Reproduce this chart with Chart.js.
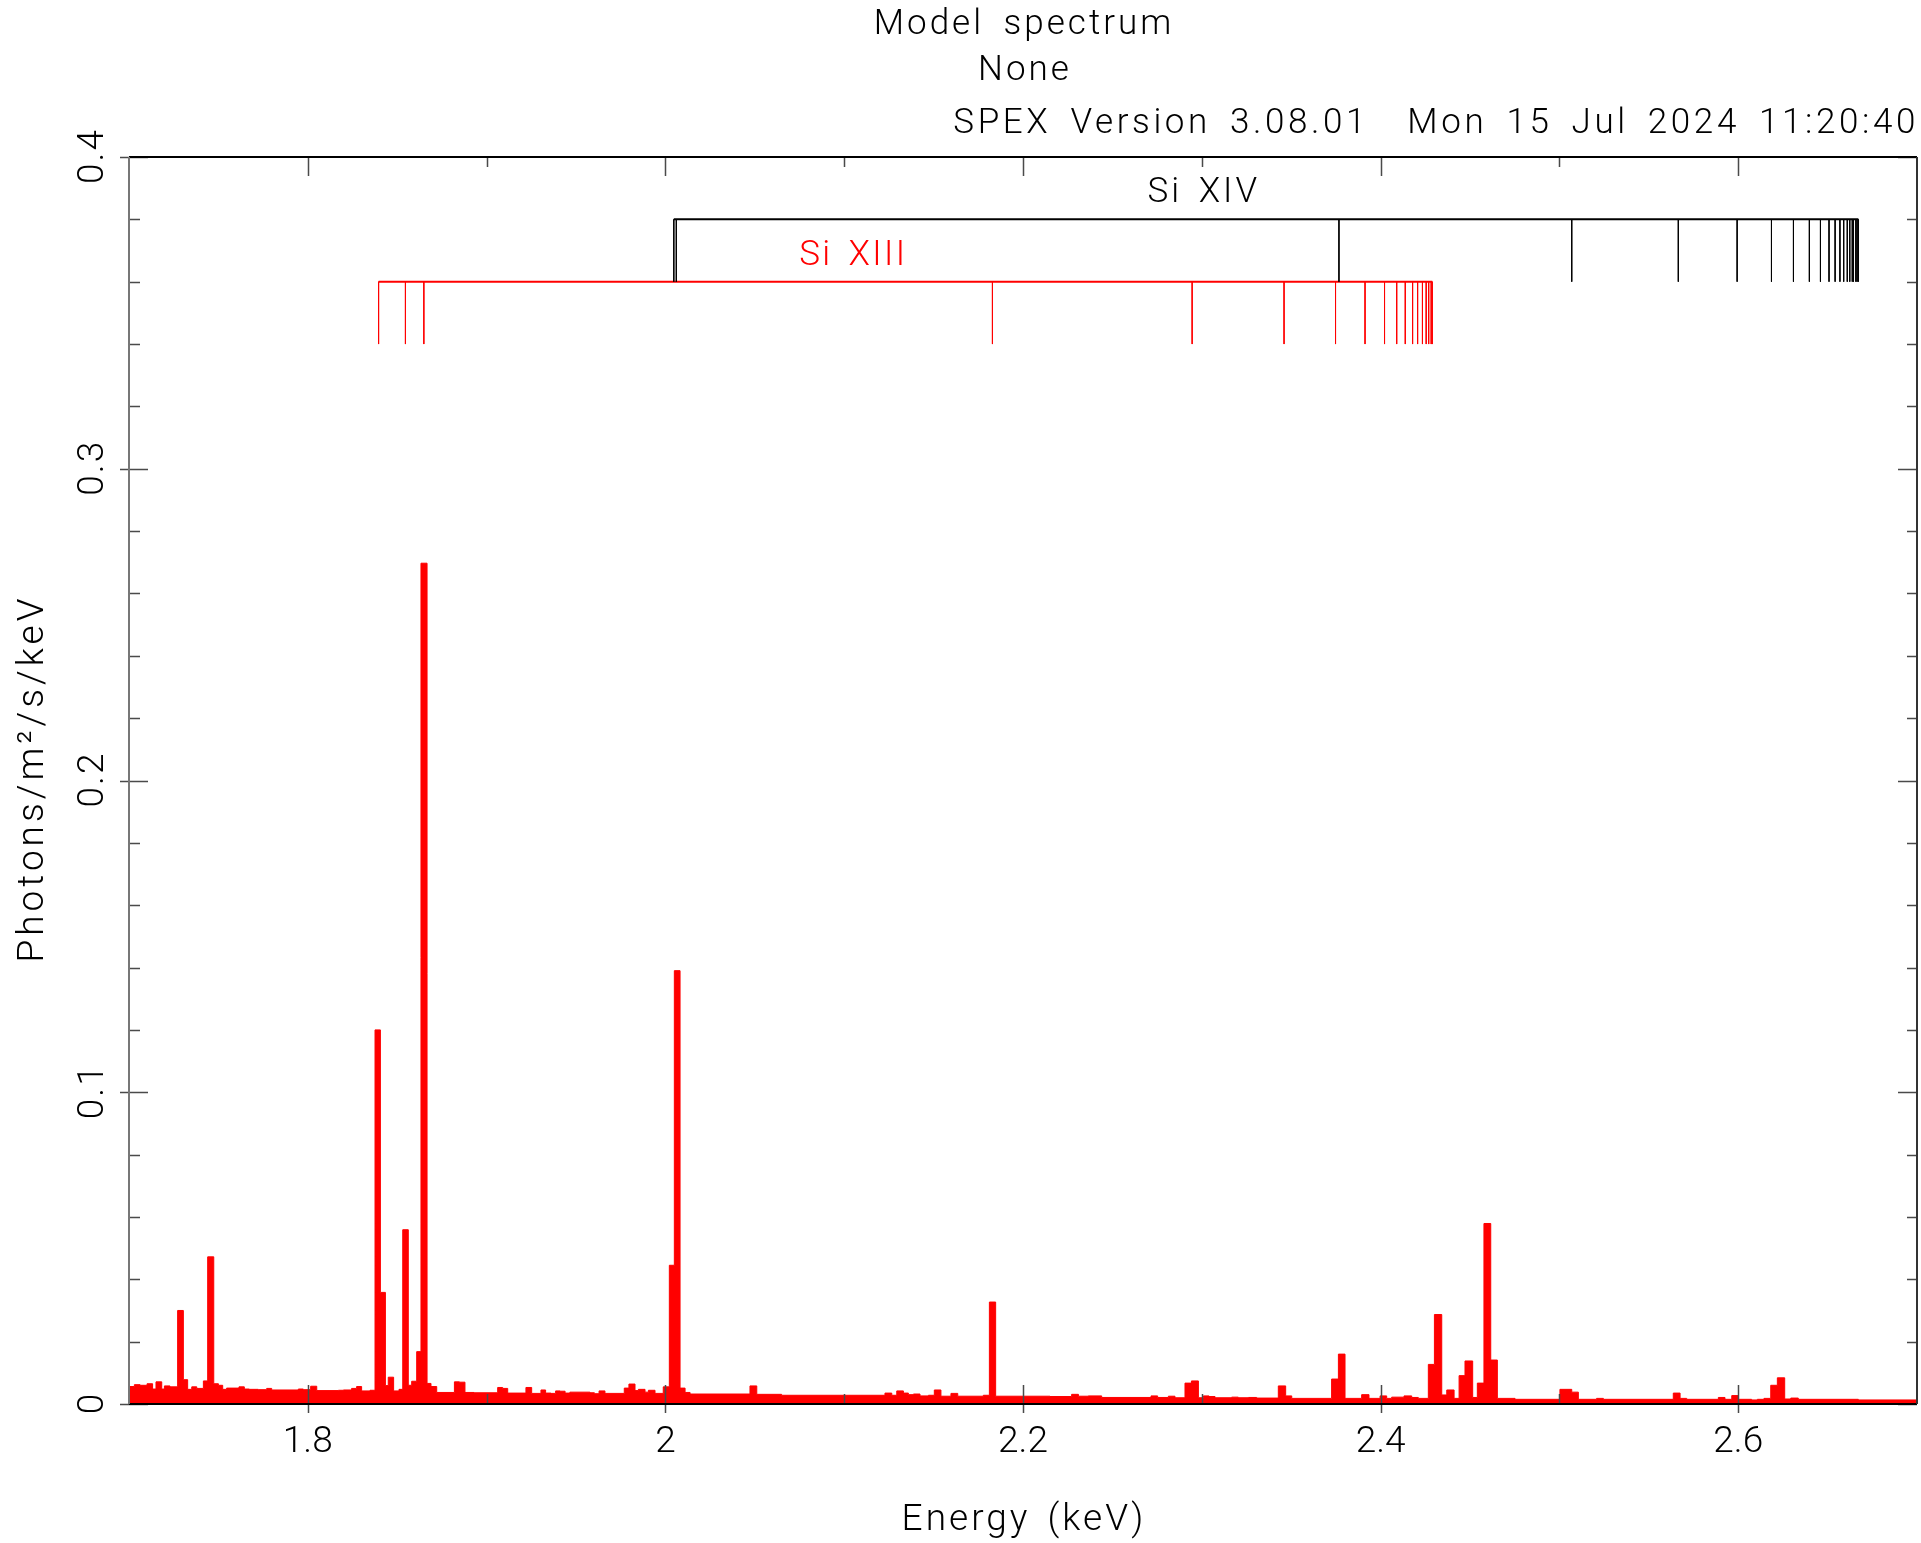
<!DOCTYPE html>
<html>
<head>
<meta charset="utf-8">
<title>Model spectrum</title>
<script src="https://cdn.jsdelivr.net/npm/chart.js@4.4.1/dist/chart.umd.min.js"></script>
<style>
  html, body { margin: 0; padding: 0; background: #fff; }
  #wrap { width: 1921px; height: 1543px; }
</style>
</head>
<body>
<div id="wrap"><canvas id="spectrum" width="1921" height="1543"></canvas></div>
<script>
// model spectrum, step edges (keV) and flux (photons/m^2/s/keV)
const edgeKeV = [
	1.7000, 1.7030, 1.7062, 1.7101, 1.7132, 1.7151, 1.7183, 1.7198, 1.7229, 1.7272,
	1.7304, 1.7328, 1.7351, 1.7379, 1.7416, 1.7440, 1.7474, 1.7500, 1.7524, 1.7546,
	1.7615, 1.7645, 1.7673, 1.7723, 1.7770, 1.7798, 1.7947, 1.7975, 1.8016, 1.8050,
	1.8171, 1.8199, 1.8245, 1.8273, 1.8301, 1.8348, 1.8376, 1.8406, 1.8434, 1.8450,
	1.8480, 1.8510, 1.8531, 1.8562, 1.8581, 1.8609, 1.8633, 1.8667, 1.8689, 1.8721,
	1.8820, 1.8848, 1.8879, 1.8931, 1.9062, 1.9090, 1.9118, 1.9220, 1.9252, 1.9304,
	1.9330, 1.9360, 1.9386, 1.9411, 1.9439, 1.9466, 1.9578, 1.9603, 1.9629, 1.9662,
	1.9770, 1.9796, 1.9830, 1.9849, 1.9886, 1.9905, 1.9942, 1.9988, 2.0022, 2.0050,
	2.0082, 2.0110, 2.0138, 2.0473, 2.0511, 2.0650, 2.1228, 2.1266, 2.1294, 2.1331,
	2.1359, 2.1387, 2.1424, 2.1471, 2.1504, 2.1541, 2.1597, 2.1635, 2.1778, 2.1812,
	2.1847, 2.2151, 2.2272, 2.2310, 2.2365, 2.2440, 2.2716, 2.2753, 2.2813, 2.2850,
	2.2906, 2.2942, 2.2981, 2.3009, 2.3040, 2.3074, 2.3167, 2.3204, 2.3260, 2.3307,
	2.3428, 2.3469, 2.3503, 2.3726, 2.3764, 2.3801, 2.3894, 2.3935, 2.3997, 2.4034,
	2.4062, 2.4131, 2.4174, 2.4211, 2.4267, 2.4301, 2.4342, 2.4370, 2.4411, 2.4439,
	2.4472, 2.4515, 2.4541, 2.4578, 2.4616, 2.4653, 2.4752, 2.5003, 2.5069, 2.5106,
	2.5208, 2.5246, 2.5637, 2.5675, 2.5712, 2.5889, 2.5926, 2.5964, 2.6001, 2.6075,
	2.6107, 2.6144, 2.6182, 2.6219, 2.6260, 2.6294, 2.6336, 2.6672, 2.7000
];
const fluxValues = [
	0.0056, 0.0062, 0.0060, 0.0065, 0.0048, 0.0071, 0.0048, 0.0058, 0.0055, 0.0300,
	0.0078, 0.0047, 0.0055, 0.0050, 0.0074, 0.0472, 0.0065, 0.0060, 0.0047, 0.0051,
	0.0055, 0.0048, 0.0047, 0.0046, 0.0050, 0.0045, 0.0048, 0.0046, 0.0057, 0.0043,
	0.0044, 0.0045, 0.0050, 0.0056, 0.0042, 0.0044, 0.1200, 0.0358, 0.0059, 0.0086,
	0.0042, 0.0047, 0.0559, 0.0060, 0.0073, 0.0168, 0.2697, 0.0066, 0.0056, 0.0037,
	0.0071, 0.0070, 0.0037, 0.0036, 0.0053, 0.0050, 0.0035, 0.0053, 0.0034, 0.0045,
	0.0035, 0.0034, 0.0042, 0.0041, 0.0035, 0.0038, 0.0036, 0.0033, 0.0042, 0.0034,
	0.0051, 0.0064, 0.0043, 0.0047, 0.0038, 0.0044, 0.0034, 0.0055, 0.0445, 0.1390,
	0.0051, 0.0037, 0.0032, 0.0058, 0.0031, 0.0028, 0.0035, 0.0028, 0.0042, 0.0035,
	0.0030, 0.0032, 0.0026, 0.0028, 0.0045, 0.0025, 0.0034, 0.0025, 0.0028, 0.0327,
	0.0025, 0.0024, 0.0031, 0.0025, 0.0026, 0.0021, 0.0026, 0.0021, 0.0025, 0.0020,
	0.0067, 0.0074, 0.0020, 0.0026, 0.0024, 0.0020, 0.0022, 0.0020, 0.0021, 0.0019,
	0.0058, 0.0026, 0.0018, 0.0080, 0.0160, 0.0018, 0.0030, 0.0018, 0.0026, 0.0018,
	0.0022, 0.0026, 0.0021, 0.0018, 0.0127, 0.0287, 0.0029, 0.0045, 0.0018, 0.0091,
	0.0138, 0.0021, 0.0067, 0.0579, 0.0141, 0.0018, 0.0015, 0.0047, 0.0038, 0.0015,
	0.0018, 0.0015, 0.0035, 0.0018, 0.0015, 0.0021, 0.0015, 0.0027, 0.0015, 0.0013,
	0.0015, 0.0018, 0.0060, 0.0084, 0.0016, 0.0019, 0.0015, 0.0013, 0.0013
];

// line identifications (keV)
const siXIVLines = [
	2.0047, 2.0061, 2.3767, 2.5069, 2.5665, 2.5994, 2.6186, 2.6309, 2.6398, 2.6460,
	2.6508, 2.6542, 2.6569, 2.6590, 2.6610, 2.6624, 2.6638, 2.6645, 2.6658, 2.6665, 2.6672
];
const siXIIILines = [
	1.8396, 1.8546, 1.8649, 2.1829, 2.2946, 2.3460, 2.3748, 2.3913, 2.4022, 2.4090,
	2.4138, 2.4179, 2.4207, 2.4234, 2.4255, 2.4269, 2.4283, 2.4289
];
const siXIVLevel = [0.38, 0.36];
const siXIIILevel = [0.36, 0.34];
const ionLabels = [
	{ text: 'Si XIV', x: 2.300, y: 0.3883, color: '#000000' },
	{ text: 'Si XIII', x: 2.104, y: 0.3682, color: '#ff0000' }
];

// axes
const xTicks = [1.8, 2.0, 2.2, 2.4, 2.6];
const xTickLabels = ['1.8', '2', '2.2', '2.4', '2.6'];
const xMinorTicks = [1.9, 2.1, 2.3, 2.5];
const yTicks = [0, 0.1, 0.2, 0.3, 0.4];
const yTickLabels = ['0', '0.1', '0.2', '0.3', '0.4'];
const yMinorTicks = [0.02, 0.04, 0.06, 0.08, 0.12, 0.14, 0.16, 0.18, 0.22, 0.24, 0.26, 0.28, 0.32, 0.34, 0.36, 0.38];

const titleLines = ['Model spectrum', 'None'];
const stampText = 'SPEX Version 3.08.01  Mon 15 Jul 2024 11:20:40';
const xTitle = 'Energy (keV)';
const yTitle = 'Photons/m\u00b2/s/keV';

const FONT = 'Roboto, "DejaVu Sans", sans-serif';
const fontCss = (size) => '300 ' + size + 'px ' + FONT;

function markerPoints(lines, level){
	let pts = [];
	lines.forEach((e) => {
		pts.push({x: e, y: level[0]}, {x: e, y: level[1]}, {x: e, y: null});
	});
	return pts;
}

function barPoints(lines, level){
	return [{x: lines[0], y: level[0]}, {x: lines[lines.length - 1], y: level[0]}];
}

// the pgplot font is wide, spread the letters a bit
function spacedText(ctx, text, x, y, letter, word){
	ctx.letterSpacing = letter + 'px';
	ctx.wordSpacing = word + 'px';
	ctx.fillText(text, x, y);
	ctx.letterSpacing = '0px';
	ctx.wordSpacing = '0px';
}

// frame, in/out tick marks, y labels, titles and ion labels
const spexDecor = {
	id: 'spexDecor',
	afterDraw(chart) {
		const ctx = chart.ctx;
		const a = chart.chartArea;
		const xs = chart.scales.x, ys = chart.scales.y;

		ctx.save();
		ctx.lineWidth = 1.5;
		ctx.strokeStyle = '#4a4a4a';
		ctx.beginPath();
		xTicks.forEach((v) => {
			const px = Math.round(xs.getPixelForValue(v)) + 0.5;
			ctx.moveTo(px, a.bottom + 9); ctx.lineTo(px, a.bottom - 19);
			ctx.moveTo(px, a.top); ctx.lineTo(px, a.top + 19);
		});
		xMinorTicks.forEach((v) => {
			const px = Math.round(xs.getPixelForValue(v)) + 0.5;
			ctx.moveTo(px, a.bottom); ctx.lineTo(px, a.bottom - 10);
			ctx.moveTo(px, a.top); ctx.lineTo(px, a.top + 10);
		});
		yTicks.forEach((v) => {
			const py = Math.round(ys.getPixelForValue(v)) + 0.5;
			ctx.moveTo(a.left - 9, py); ctx.lineTo(a.left + 19, py);
			ctx.moveTo(a.right, py); ctx.lineTo(a.right - 19, py);
		});
		yMinorTicks.forEach((v) => {
			const py = Math.round(ys.getPixelForValue(v)) + 0.5;
			ctx.moveTo(a.left, py); ctx.lineTo(a.left + 11, py);
			ctx.moveTo(a.right, py); ctx.lineTo(a.right - 10, py);
		});
		ctx.stroke();

		// box
		ctx.lineWidth = 2;
		ctx.strokeStyle = '#000';
		ctx.beginPath();
		ctx.moveTo(a.left, a.top); ctx.lineTo(a.right, a.top);
		ctx.moveTo(a.left, a.bottom); ctx.lineTo(a.right, a.bottom);
		ctx.stroke();
		ctx.strokeStyle = '#333';
		ctx.beginPath();
		ctx.moveTo(a.right, a.top); ctx.lineTo(a.right, a.bottom);
		ctx.stroke();
		ctx.strokeStyle = '#777';
		ctx.beginPath();
		ctx.moveTo(a.left, a.top); ctx.lineTo(a.left, a.bottom);
		ctx.stroke();

		// y tick labels, written upwards
		ctx.fillStyle = '#000';
		ctx.font = fontCss(37);
		ctx.textAlign = 'center';
		ctx.textBaseline = 'alphabetic';
		yTicks.forEach((v, i) => {
			ctx.save();
			ctx.translate(a.left - 26, ys.getPixelForValue(v));
			ctx.rotate(-Math.PI / 2);
			spacedText(ctx, yTickLabels[i], 1, 0, 2, 0);
			ctx.restore();
		});

		const cx = (a.left + a.right) / 2;
		const cy = (a.top + a.bottom) / 2;

		// axis titles
		ctx.textBaseline = 'middle';
		spacedText(ctx, xTitle, cx + 1, a.bottom + 117, 3, 5);
		ctx.save();
		ctx.translate(34, cy);
		ctx.rotate(-Math.PI / 2);
		spacedText(ctx, yTitle, 2, 0, 4, 0);
		ctx.restore();

		// header
		ctx.font = fontCss(35);
		spacedText(ctx, titleLines[0], cx + 1, 25, 3, 8);
		spacedText(ctx, titleLines[1], cx + 2, 71, 3, 8);
		ctx.textAlign = 'right';
		spacedText(ctx, stampText, a.right + 2, 124, 3.6, 7);

		// ion names
		ctx.textAlign = 'center';
		ionLabels.forEach((l, i) => {
			ctx.fillStyle = l.color;
			spacedText(ctx, l.text, xs.getPixelForValue(l.x) + 2, ys.getPixelForValue(l.y), i ? 2.4 : 3, 5);
		});
		ctx.restore();
	}
};

const ctx = document.getElementById('spectrum').getContext('2d');

new Chart(ctx, {
	type: 'line',
	data: {
		datasets: [
			{
				data: edgeKeV.map((e, i) => ({x: e, y: fluxValues[i]})),
				stepped: 'before',
				fill: 'origin',
				backgroundColor: '#ff0000',
				borderColor: '#ff0000',
				borderWidth: 1,
				pointRadius: 0
			},
			{
				data: markerPoints(siXIVLines, siXIVLevel),
				borderColor: '#000000',
				borderWidth: 1,
				pointRadius: 0,
				spanGaps: false
			},
			{
				data: barPoints(siXIVLines, siXIVLevel),
				borderColor: '#000000',
				borderWidth: 2,
				pointRadius: 0
			},
			{
				data: markerPoints(siXIIILines, siXIIILevel),
				borderColor: '#ff0000',
				borderWidth: 1,
				pointRadius: 0,
				spanGaps: false
			},
			{
				data: barPoints(siXIIILines, siXIIILevel),
				borderColor: '#ff0000',
				borderWidth: 2,
				pointRadius: 0
			}
		]
	},
	options: {
		responsive: false,
		animation: false,
		devicePixelRatio: 1,
		layout: { padding: { top: 157, right: 4, left: 0, bottom: 0 } },
		plugins: {
			legend: { display: false },
			tooltip: { enabled: false }
		},
		scales: {
			x: {
				type: 'linear',
				min: 1.7,
				max: 2.7,
				grid: { display: false, drawTicks: false },
				border: { display: false },
				afterBuildTicks: (scale) => { scale.ticks = xTicks.map((v) => ({value: v})); },
				afterFit: (scale) => { scale.height = 139; },
				ticks: {
					autoSkip: false,
					maxRotation: 0,
					padding: 17,
					color: '#000',
					font: { family: FONT, size: 37, weight: '300' },
					callback: (v, i) => xTickLabels[i]
				}
			},
			y: {
				min: 0,
				max: 0.4,
				grid: { display: false, drawTicks: false },
				border: { display: false },
				afterBuildTicks: (scale) => { scale.ticks = yTicks.map((v) => ({value: v})); },
				afterFit: (scale) => { scale.width = 129; },
				ticks: { display: false }
			}
		}
	},
	plugins: [spexDecor]
});
</script>
</body>
</html>
